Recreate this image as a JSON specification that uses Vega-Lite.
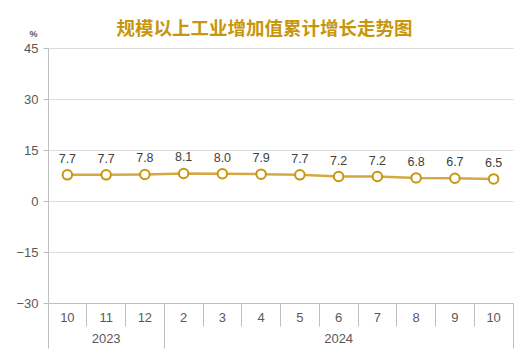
{
  "$schema": "https://vega.github.io/schema/vega-lite/v6.json",
  "width": 465,
  "height": 255,
  "autosize": {"type": "none"},
  "padding": {"left": 48, "top": 48, "right": 11, "bottom": 55},
  "background": "white",
  "config": {
    "view": {"stroke": null},
    "font": "Liberation Sans"
  },
  "title": {
    "text": "规模以上工业增加值累计增长走势图",
    "font": "Noto Sans CJK SC",
    "fontSize": 18.5,
    "fontWeight": "bold",
    "color": "#C8960C",
    "anchor": "middle",
    "dx": -16,
    "dy": 23,
    "offset": 14
  },
  "data": {
    "values": [
      {"key": "2023-10", "v": 7.7},
      {"key": "2023-11", "v": 7.7},
      {"key": "2023-12", "v": 7.8},
      {"key": "2024-2", "v": 8.1},
      {"key": "2024-3", "v": 8.0},
      {"key": "2024-4", "v": 7.9},
      {"key": "2024-5", "v": 7.7},
      {"key": "2024-6", "v": 7.2},
      {"key": "2024-7", "v": 7.2},
      {"key": "2024-8", "v": 6.8},
      {"key": "2024-9", "v": 6.7},
      {"key": "2024-10", "v": 6.5}
    ]
  },
  "encoding": {
    "y": {
      "field": "v",
      "type": "quantitative",
      "scale": {"domain": [-30, 45], "nice": false, "zero": false},
      "axis": {
        "values": [-30, -15, 0, 15, 30, 45],
        "title": "%",
        "titleAngle": 0,
        "titleX": -15,
        "titleY": -15,
        "titleAlign": "center",
        "titleBaseline": "middle",
        "titleFontSize": 9,
        "titleFontWeight": "bold",
        "titleColor": "#595959",
        "grid": true,
        "gridColor": "#DCDCDC",
        "domainColor": "#BFBFBF",
        "tickColor": "#BFBFBF",
        "tickSize": 5,
        "labelFontSize": 13,
        "labelColor": "#595959",
        "labelPadding": 5,
        "labelFont": "Liberation Sans"
      }
    }
  },
  "resolve": {"axis": {"x": "independent"}},
  "layer": [
    {
      "mark": {"type": "line", "color": "#D4A845", "strokeWidth": 2.5},
      "encoding": {
        "x": {
          "field": "key",
          "type": "ordinal",
          "sort": null,
          "scale": {"type": "band", "paddingInner": 0, "paddingOuter": 0},
          "axis": {
            "orient": "bottom",
            "title": null,
            "labelAngle": 0,
            "labelExpr": "split(datum.value, '-')[1]",
            "ticks": false,
            "domain": true,
            "domainColor": "#BFBFBF",
            "labelFontSize": 13,
            "labelColor": "#595959",
            "labelPadding": 8,
            "labelFont": "Liberation Sans"
          }
        }
      }
    },
    {
      "mark": {"type": "point", "shape": "circle", "filled": true, "fill": "white", "stroke": "#C8960C", "strokeWidth": 2, "size": 90, "opacity": 1},
      "encoding": {
        "x": {
          "field": "key",
          "type": "ordinal",
          "sort": null,
          "scale": {"type": "band", "paddingInner": 0, "paddingOuter": 0},
          "axis": {
            "orient": "bottom",
            "title": null,
            "labels": false,
            "domain": false,
            "ticks": true,
            "bandPosition": 0,
            "tickSize": 23,
            "tickColor": "#BFBFBF",
            "values": ["2023-11", "2023-12", "2024-3", "2024-4", "2024-5", "2024-6", "2024-7", "2024-8", "2024-9", "2024-10"]
          }
        }
      }
    },
    {
      "mark": {"type": "text", "dy": -16, "fontSize": 12.5, "color": "#404040", "font": "Liberation Sans"},
      "encoding": {
        "x": {
          "field": "key",
          "type": "ordinal",
          "sort": null,
          "scale": {"type": "band", "paddingInner": 0, "paddingOuter": 0},
          "axis": {
            "orient": "bottom",
            "title": null,
            "labels": false,
            "domain": false,
            "ticks": true,
            "bandPosition": 0,
            "tickSize": 45,
            "tickColor": "#BFBFBF",
            "values": ["2023-10", "2024-2"]
          }
        },
        "text": {"field": "v", "type": "quantitative", "format": ".1f"}
      }
    },
    {
      "mark": {"type": "point", "opacity": 0},
      "encoding": {
        "x": {
          "field": "key",
          "type": "ordinal",
          "sort": null,
          "scale": {"type": "band", "paddingInner": 0, "paddingOuter": 0},
          "axis": {
            "orient": "bottom",
            "title": null,
            "labels": false,
            "domain": false,
            "ticks": true,
            "bandPosition": 1,
            "tickSize": 45,
            "tickColor": "#BFBFBF",
            "values": ["2024-10"]
          }
        }
      }
    },
    {
      "mark": {"type": "point", "opacity": 0},
      "encoding": {
        "x": {
          "field": "key",
          "type": "ordinal",
          "sort": null,
          "scale": {"type": "band", "paddingInner": 0, "paddingOuter": 0},
          "axis": {
            "orient": "bottom",
            "title": null,
            "labelAngle": 0,
            "labelExpr": "split(datum.value, '-')[0]",
            "ticks": false,
            "domain": false,
            "labelFontSize": 13,
            "labelColor": "#595959",
            "labelPadding": 29,
            "labelFont": "Liberation Sans",
            "values": ["2023-11", "2024-6"]
          }
        }
      }
    }
  ]
}
